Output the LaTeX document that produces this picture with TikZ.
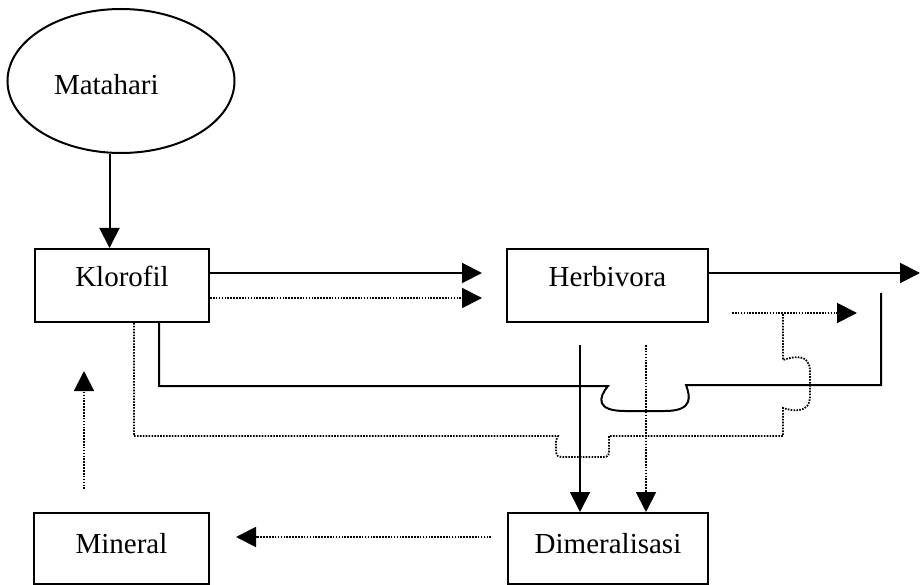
\documentclass[tikz,border=0pt]{standalone}
\usepackage{fontspec}
\setmainfont{Liberation Serif}
\usetikzlibrary{arrows.meta, positioning, shapes}

\begin{document}
\begin{tikzpicture}[
    x=1pt, y=-1pt,
    box/.style={draw, rectangle, line width=2pt, inner sep=0pt,
                font=\fontsize{29}{35}\selectfont, align=center},
    upper/.style={minimum height=73pt, text height=22pt, text depth=19.8pt},
    lower/.style={minimum height=71pt, text height=22pt, text depth=12.8pt},
    link/.style={line width=2pt},
    arr/.style={link, -{Triangle[length=20pt, width=20pt]}},
    dotline/.style={line width=1.8pt, dash pattern=on 1.6pt off 1.3pt}
]
\useasboundingbox (0,0) rectangle (921,585);

% Sun
\node[ellipse, draw, line width=2pt, minimum width=227pt, minimum height=144pt,
      inner sep=0pt, font=\fontsize{29}{35}\selectfont, text width=134pt,
      align=left, text height=26.5pt, text depth=0.3pt] (sun) at (121,81) {Matahari};

% Row 1
\node[box, upper, minimum width=174pt] (kloro) at (122,285.5)   {Klorofil};
\node[box, upper, minimum width=201pt] (herb)  at (607.5,285.5) {Herbivora};

% Row 2
\node[box, lower, minimum width=175pt] (miner) at (121.5,548.5) {Mineral};
\node[box, lower, minimum width=200pt] (dimer) at (608,548.5)   {Dimeralisasi};

% Free ends
\coordinate (out)      at (920,273);
\coordinate (solEnd)   at (881,293);
\coordinate (solTop)   at (580,345);
\coordinate (dotTop)   at (646,345);
\coordinate (dotJoin)  at (783,313);
\coordinate (dotStart) at (732,313);
\coordinate (dotTip)   at (857,313);

% Energy
\draw[arr] (sun.261) -- (sun.261 |- kloro.north);
\draw[arr] ([yshift=12.5pt]kloro.east) -- ([yshift=12.5pt, xshift=-24pt]herb.west);
\draw[arr, dotline] ([yshift=-12.5pt]kloro.east) -- ([yshift=-12.5pt, xshift=-24pt]herb.west);
\draw[arr] ([yshift=12.5pt]herb.east) -- (out);

% Solid loop with bridge
\draw[link] ([xshift=37pt]kloro.south) |- (608,386)
    .. controls (598,398) and (596,411) .. (625,411) -- (665,411)
    .. controls (694,411) and (690,396) .. (686,385) -| (solEnd);

% Dotted loop with bridges
\draw[dotline] ([xshift=12pt]kloro.south) |- (558,436)
    .. controls (555,441) and (556,444) .. (556,449)
    .. controls (556,457) and (558,457) .. (565,457) -- (603,457)
    .. controls (609,457) and (609,455) .. (609,450) -- (609,436)
    -- (783,436) -- (783,408)
    .. controls (795,412) and (809,412) .. (810,398) -- (810,370)
    .. controls (809,354) and (795,356) .. (783,360) -- (dotJoin);
\draw[arr, dotline] (dotStart) -- (dotTip);

% Down to Dimeralisasi
\draw[arr] (solTop) -- (solTop |- dimer.north);
\draw[arr, dotline] (dotTop) -- (dotTop |- dimer.north);

% Back to Mineral and Klorofil
\draw[arr, dotline] ([xshift=-16pt, yshift=11.5pt]dimer.west) -- ([xshift=26pt, yshift=11.5pt]miner.east);
\draw[arr, dotline] ([xshift=-37.5pt, yshift=23pt]miner.north) -- ([xshift=-38pt, yshift=-48pt]kloro.south);

\end{tikzpicture}
\end{document}
